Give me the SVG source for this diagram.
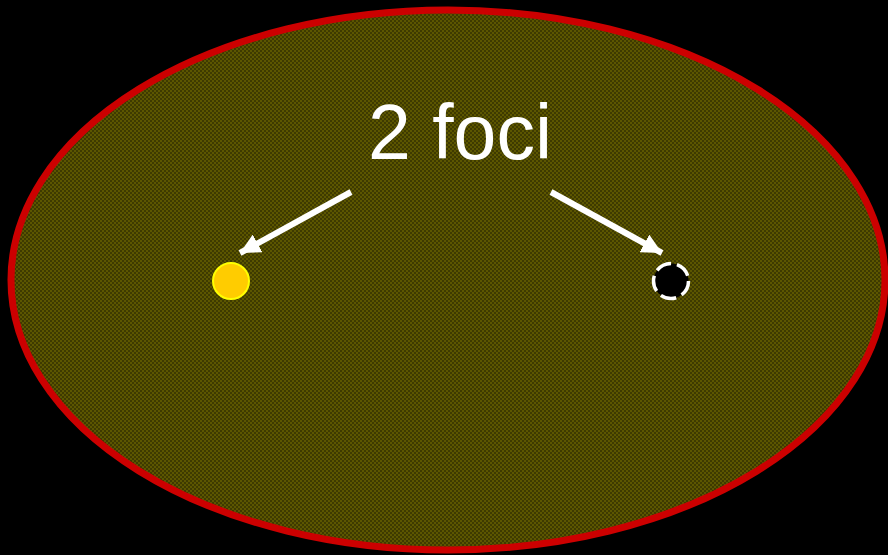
<svg xmlns="http://www.w3.org/2000/svg" width="888" height="555" viewBox="0 0 888 555">
  <style>
    .conn { stroke: #ffffff; stroke-width: 6; fill: none; }
    .label { font-family: "Liberation Sans", Arial, sans-serif; font-size: 77px; fill: #ffffff; }
  </style>
  <defs>
    <pattern id="chk" width="4" height="4" patternUnits="userSpaceOnUse">
      <rect width="4" height="4" fill="#3e3a00"/>
      <rect width="2" height="2" fill="#5c5600"/>
      <rect x="2" y="2" width="2" height="2" fill="#5c5600"/>
    </pattern>
    <marker id="arrow" markerUnits="userSpaceOnUse" markerWidth="22" markerHeight="20" refX="20" refY="10" orient="auto">
      <path d="M0,0 L20,10 L0,20 Z" fill="#ffffff"/>
    </marker>
  </defs>
  <rect width="888" height="555" fill="#000000"/>
  <g id="ellipse">
    <ellipse cx="448" cy="280" rx="437" ry="270" fill="url(#chk)" stroke="#cc0000" stroke-width="7"/>
  </g>
  <g id="title">
    <text class="label" x="460" y="159" text-anchor="middle">2 foci</text>
  </g>
  <g id="focus-left">
    <circle cx="231" cy="281" r="18" fill="#ffcc00" stroke="#ffff00" stroke-width="2"/>
  </g>
  <g id="focus-right">
    <circle cx="671" cy="281" r="17.5" fill="#000000" stroke="#ffffff" stroke-width="3.5" stroke-dasharray="16 6"/>
  </g>
  <g id="connectors">
    <line class="conn" x1="351" y1="192" x2="240" y2="253" marker-end="url(#arrow)"/>
    <line class="conn" x1="551" y1="192" x2="662" y2="253" marker-end="url(#arrow)"/>
  </g>
</svg>
